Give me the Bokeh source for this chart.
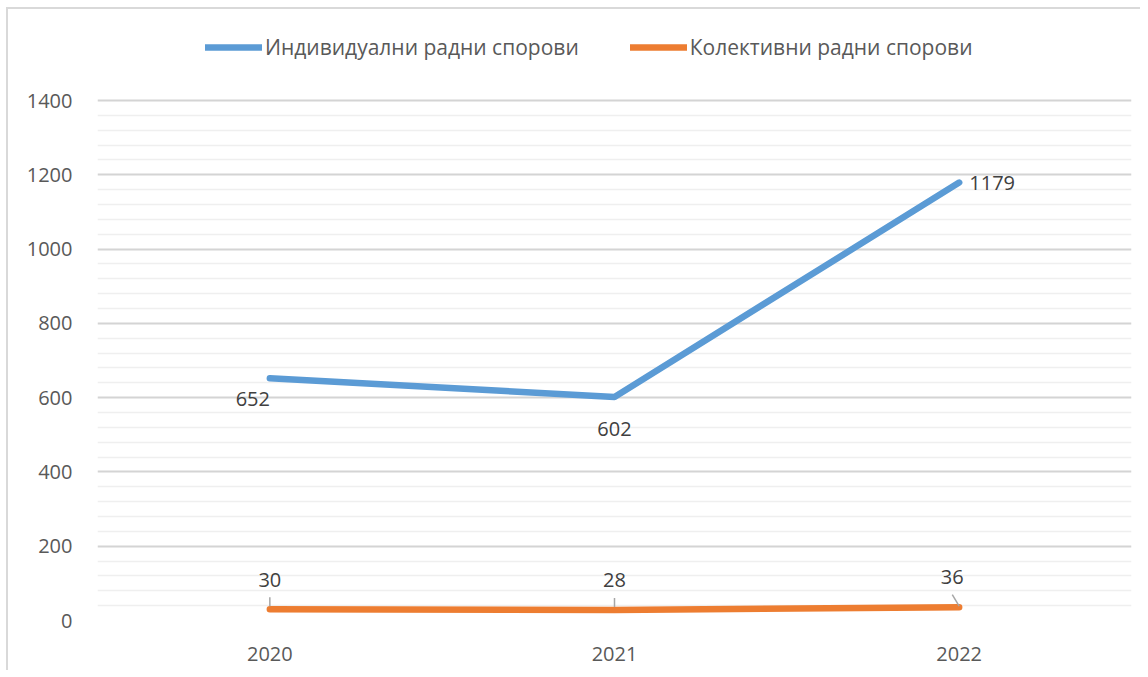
from bokeh.plotting import figure
from bokeh.models import (ColumnDataSource, FactorRange, Range1d, FixedTicker,
                          Legend, LegendItem)
from bokeh.core.properties import value
from bokeh.embed import file_html
from bokeh.resources import INLINE

# ---- data ----
years = ["2020", "2021", "2022"]
individual = [652, 602, 1179]
collective = [30, 28, 36]
series_names = ["Индивидуални радни спорови", "Колективни радни спорови"]
y_ticks = [0, 200, 400, 600, 800, 1000, 1200, 1400]

# ---- style ----
BLUE = "#5B9BD5"
ORANGE = "#ED7D31"
TXT = "#595959"
LBL = "#404040"
FONT = "Open Sans"
FS = "20px"

AXIS_MAX = y_ticks[-1]
PLOT_PX = 520          # pixel height of the 0..1400 part
HEADER_PX = 80         # extra room above 1400 for the legend
y_top = AXIS_MAX * (PLOT_PX + HEADER_PX) / PLOT_PX

p = figure(x_range=FactorRange(factors=years, range_padding=0),
           y_range=Range1d(0, y_top),
           frame_width=1034, frame_height=PLOT_PX + HEADER_PX,
           min_border_left=89, min_border_right=9, min_border_top=11, min_border_bottom=50,
           output_backend="svg", toolbar_location=None)
p.styles = {"border-top": "2px solid #D9D9D9", "border-left": "2px solid #D9D9D9",
            "margin-left": "6px", "margin-top": "7px"}
p.outline_line_color = None
p.background_fill_color = "white"
p.border_fill_color = "white"

# axes
minor = [v for v in range(0, AXIS_MAX + 1, 40) if v % 200]
p.yaxis.ticker = FixedTicker(ticks=y_ticks, minor_ticks=minor)
for ax in (p.xaxis, p.yaxis):
    ax.axis_line_color = None
    ax.major_tick_line_color = None
    ax.minor_tick_line_color = None
    ax.major_label_text_font = FONT
    ax.major_label_text_font_size = FS
    ax.major_label_text_color = TXT
p.yaxis.major_label_standoff = 19
p.xaxis.major_label_standoff = 20

p.xgrid.grid_line_color = None
p.ygrid.grid_line_color = "#D4D4D4"
p.ygrid.grid_line_width = 2
p.ygrid.minor_grid_line_color = "#EFEFEF"
p.ygrid.minor_grid_line_width = 1.5

src = ColumnDataSource(dict(
    year=years, ind=individual, col=collective,
    ind_txt=[str(v) for v in individual], col_txt=[str(v) for v in collective],
))

r1 = p.line("year", "ind", source=src, line_color=BLUE, line_width=6.5,
            line_cap="round", line_join="round")
r2 = p.line("year", "col", source=src, line_color=ORANGE, line_width=6.5,
            line_cap="round", line_join="round")

# data labels (screen offsets)
src.data["ind_dx"] = [-17, 0, 33]
src.data["ind_dy"] = [21, 32, 0]
src.data["col_dx"] = [0, 0, -7]
src.data["col_dy"] = [-29, -30, -30]
p.text("year", "ind", text="ind_txt", source=src, x_offset="ind_dx", y_offset="ind_dy",
       text_align="center", text_baseline="middle", text_font=value(FONT),
       text_font_size=FS, text_color=LBL)
p.text("year", "col", text="col_txt", source=src, x_offset="col_dx", y_offset="col_dy",
       text_align="center", text_baseline="middle", text_font=value(FONT),
       text_font_size=FS, text_color=LBL)

# leader lines for the orange labels
px = AXIS_MAX / PLOT_PX
lead = ColumnDataSource(dict(
    x0=[(y, 0.0) for y in years],
    x1=[(years[0], 0.0), (years[1], 0.0), (years[2], -0.02)],
    y0=[collective[0] + 3 * px, collective[1] + 3 * px, collective[2] + 1 * px],
    y1=[collective[0] + 12 * px, collective[1] + 12 * px, collective[2] + 12.5 * px],
))
p.segment("x0", "y0", "x1", "y1", source=lead, line_color="#A6A6A6", line_width=1.5)

# legend at the top, like Excel's top legend
lg = Legend(items=[LegendItem(label=series_names[0], renderers=[r1]),
                   LegendItem(label=series_names[1], renderers=[r2])],
            location=(108, 559), orientation="horizontal",
            glyph_width=57, glyph_height=20, label_standoff=3,
            padding=0, margin=0, spacing=51,
            border_line_color=None, background_fill_alpha=0,
            label_text_font=FONT, label_text_font_size="21px", label_text_color=TXT)
p.add_layout(lg, "center")

open("out.html", "w").write(file_html(p, INLINE))
